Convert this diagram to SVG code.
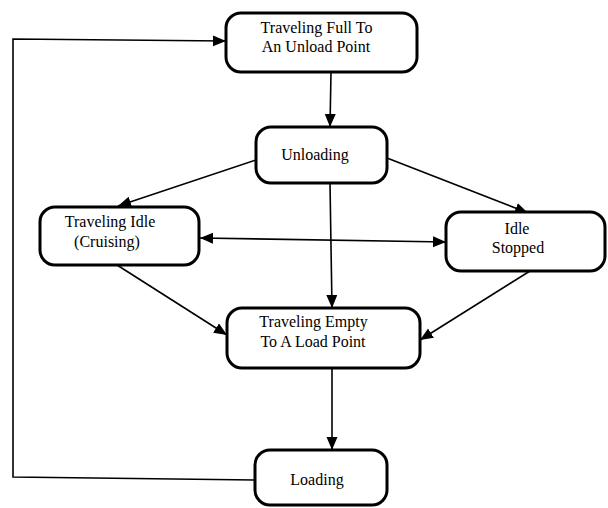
<svg xmlns="http://www.w3.org/2000/svg" width="608" height="508" viewBox="0 0 608 508">
  <defs>
    <marker id="arr" markerUnits="userSpaceOnUse" markerWidth="14" markerHeight="12" refX="13" refY="5.5" orient="auto-start-reverse">
      <path d="M0,0 L13,5.5 L0,11 Z" fill="#000"/>
    </marker>
  </defs>
  <style>
    .box { fill: #fff; stroke: #000; stroke-width: 3; }
    .lbl { font-family: "Liberation Serif", "Times New Roman", serif; font-size: 16px; fill: #000; text-anchor: middle; }
    .conn { fill: none; stroke: #000; stroke-width: 1.6; }
  </style>
  <rect x="0" y="0" width="608" height="508" fill="#fff"/>

  <g id="connectors">
    <path class="conn" d="M331,72 L330,127" marker-end="url(#arr)"/>
    <path class="conn" d="M256,160 L118,206" marker-end="url(#arr)"/>
    <path class="conn" d="M387,158 L528,213" marker-end="url(#arr)"/>
    <path class="conn" d="M330,183 L332,308" marker-end="url(#arr)"/>
    <path class="conn" d="M200,238 L446,242" marker-start="url(#arr)" marker-end="url(#arr)"/>
    <path class="conn" d="M117,265 L227,335" marker-end="url(#arr)"/>
    <path class="conn" d="M530,271 L420,340" marker-end="url(#arr)"/>
    <path class="conn" d="M332,368 L332,450" marker-end="url(#arr)"/>
    <path class="conn" d="M255,480 L13,477 L13,39 L226,41" marker-end="url(#arr)"/>
  </g>

  <g id="travel-full">
    <rect class="box" x="226" y="13" width="191" height="59" rx="15"/>
    <text class="lbl" x="316.5" y="33">Traveling Full To</text>
    <text class="lbl" x="316" y="52">An Unload Point</text>
  </g>

  <g id="unloading">
    <rect class="box" x="256" y="127" width="131" height="56" rx="15"/>
    <text class="lbl" x="315" y="160">Unloading</text>
  </g>

  <g id="travel-idle">
    <rect class="box" x="40" y="207" width="159" height="58" rx="15"/>
    <text class="lbl" x="110" y="227">Traveling Idle</text>
    <text class="lbl" x="107" y="247">(Cruising)</text>
  </g>

  <g id="idle-stopped">
    <rect class="box" x="446" y="212" width="159" height="59" rx="15"/>
    <text class="lbl" x="517" y="234">Idle</text>
    <text class="lbl" x="518" y="253">Stopped</text>
  </g>

  <g id="travel-empty">
    <rect class="box" x="227" y="308" width="193" height="60" rx="15"/>
    <text class="lbl" x="313.5" y="327">Traveling Empty</text>
    <text class="lbl" x="313" y="347">To A Load Point</text>
  </g>

  <g id="loading">
    <rect class="box" x="255" y="450" width="132" height="55" rx="15"/>
    <text class="lbl" x="317" y="485">Loading</text>
  </g>
</svg>
